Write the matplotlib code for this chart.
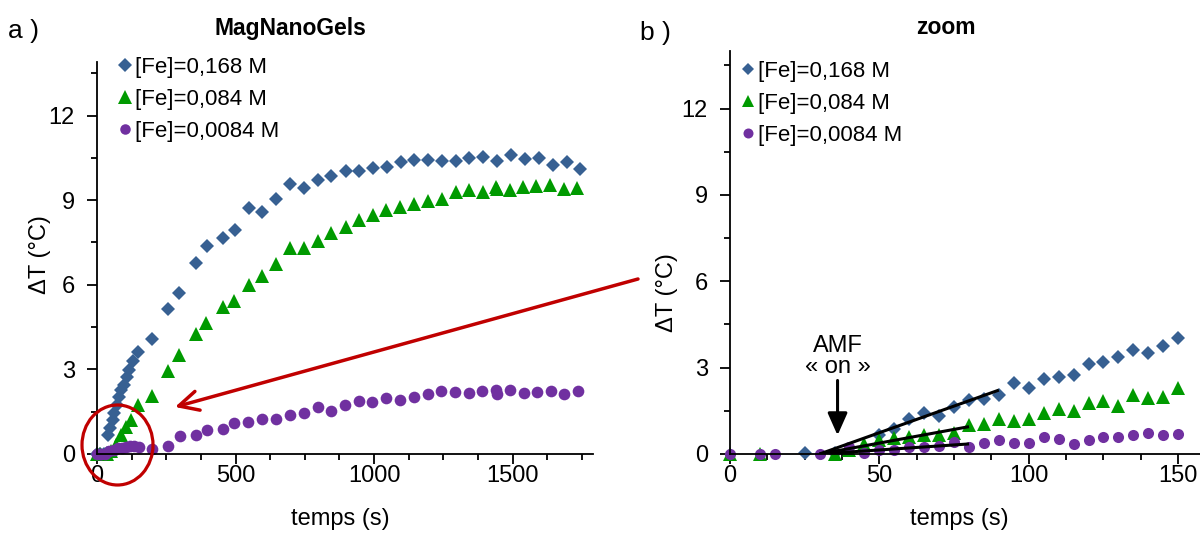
import numpy as np
import matplotlib.pyplot as plt
from matplotlib.patches import Ellipse, FancyArrowPatch
from matplotlib.ticker import MultipleLocator

plt.rcParams['font.family'] = ['Liberation Sans', 'DejaVu Sans']

labels = ['[Fe]=0,168 M', '[Fe]=0,084 M', '[Fe]=0,0084 M']
colors = ['#376092', '#009A00', '#7030A0']
markers = ['D', '^', 'o']

# panel a) : full run (s, degC)
t_a_168 = [0, 10, 25, 35, 39, 48, 57, 63, 73, 81, 87, 96, 109, 117, 129, 147,
           199, 255, 296, 357, 398, 455, 497, 547, 596, 646, 698, 746, 797, 846,
           897, 945, 996, 1047, 1096, 1144, 1195, 1245, 1295, 1343, 1393, 1445,
           1494, 1544, 1595, 1644, 1695, 1743]
dT_a_168 = [0, 0, 0, 0.05, 0.67, 0.91, 1.21, 1.44, 1.74, 2.03, 2.27, 2.45, 2.74, 2.98, 3.28, 3.6,
            4.07, 5.15, 5.72, 6.79, 7.38, 7.67, 7.94, 8.73, 8.59, 9.03, 9.57, 9.42, 9.70, 9.87,
            10.02, 10.02, 10.14, 10.16, 10.36, 10.41, 10.41, 10.38, 10.40, 10.48, 10.53, 10.38,
            10.62, 10.47, 10.50, 10.26, 10.36, 10.11]

t_a_084 = [0, 10, 35, 51, 69, 87, 105, 123, 147, 199, 255, 295, 356, 395, 455, 496,
           547, 596, 647, 698, 746, 797, 846, 897, 946, 996, 1044, 1093, 1143, 1195,
           1245, 1295, 1343, 1393, 1440, 1444, 1490, 1538, 1586, 1634, 1685, 1733]
dT_a_084 = [0, 0, 0, 0.1, 0.32, 0.67, 0.97, 1.21, 1.74, 2.06, 2.93, 3.51, 4.24, 4.64, 5.22, 5.44,
            6.00, 6.32, 6.74, 7.30, 7.30, 7.57, 7.83, 8.05, 8.30, 8.48, 8.66, 8.76, 8.87, 8.98,
            9.04, 9.28, 9.37, 9.29, 9.45, 9.40, 9.37, 9.47, 9.49, 9.55, 9.40, 9.43]

t_a_0084 = [0, 10, 15, 30, 45, 60, 75, 90, 105, 120, 135, 150,
            197, 255, 298, 356, 396, 454, 496, 544, 596, 645, 695, 746, 797, 846,
            894, 945, 994, 1042, 1092, 1143, 1195, 1243, 1291, 1342, 1391, 1440, 1445,
            1490, 1540, 1589, 1637, 1686, 1737]
dT_a_0084 = [0, 0, 0, 0, 0.1, 0.15, 0.2, 0.2, 0.25, 0.3, 0.3, 0.25,
             0.18, 0.29, 0.64, 0.67, 0.85, 0.89, 1.09, 1.15, 1.23, 1.23, 1.38, 1.47, 1.68, 1.54,
             1.72, 1.88, 1.86, 2.00, 1.92, 2.01, 2.13, 2.24, 2.19, 2.18, 2.24, 2.27, 2.12,
             2.27, 2.18, 2.19, 2.25, 2.12, 2.24]

# panel b) : first 150 s
t_b_168 = [25, 35, 50, 55, 60, 65, 70, 75, 80, 85, 90, 95, 100, 105, 110, 115,
           120, 125, 130, 135, 140, 145, 150]
dT_b_168 = [0.02, 0.05, 0.66, 0.86, 1.20, 1.41, 1.32, 1.64, 1.88, 1.90, 2.05, 2.48, 2.28,
            2.60, 2.68, 2.74, 3.13, 3.21, 3.36, 3.61, 3.50, 3.75, 4.02]
t_b_084 = [0, 10, 35, 40, 45, 50, 55, 60, 65, 70, 75, 80, 85, 90, 95, 100, 105, 110, 115,
           120, 125, 130, 135, 140, 145, 150]
dT_b_084 = [0, 0, 0, 0.14, 0.35, 0.49, 0.54, 0.60, 0.66, 0.66, 0.72, 1.01, 1.04, 1.20, 1.16,
            1.20, 1.43, 1.55, 1.50, 1.76, 1.85, 1.67, 2.05, 1.93, 1.99, 2.28]
t_b_0084 = [0, 10, 15, 30, 40, 45, 50, 55, 60, 65, 70, 75, 80, 85, 90, 95, 100, 105, 110,
            115, 120, 125, 130, 135, 140, 145, 150]
dT_b_0084 = [0, 0, 0, 0, 0.25, 0.05, 0.14, 0.14, 0.25, 0.25, 0.29, 0.43, 0.25, 0.39, 0.49,
             0.37, 0.37, 0.60, 0.51, 0.35, 0.49, 0.60, 0.60, 0.66, 0.72, 0.66, 0.68]

# initial slopes drawn on panel b)
fit_t0 = 30
fit_t1 = [90, 80, 80]
fit_dT1 = [2.22, 0.95, 0.35]
amf_on = 36

W, H = 1200, 537
fig = plt.figure(figsize=(12, 5.37), dpi=100)

def fx(px):
    return px / W

def fy(py):
    return 1 - py / H

ax1 = fig.add_axes([fx(97), fy(454), (593 - 97) / W, (454 - 62) / H])
ax2 = fig.add_axes([fx(730), fy(454), (1208 - 730) / W, (454 - 51) / H])

series_a = [(t_a_168, dT_a_168), (t_a_084, dT_a_084), (t_a_0084, dT_a_0084)]
series_b = [(t_b_168, dT_b_168), (t_b_084, dT_b_084), (t_b_0084, dT_b_0084)]
ms_a = [7.4, 10.5, 8.4]
ms_b = [7.0, 9.5, 8.0]

for (t, v), c, m, s, lab in zip(series_a, colors, markers, ms_a, labels):
    ax1.plot(t, v, linestyle='none', marker=m, ms=s, color=c, mec=c, mew=0, label=lab, clip_on=False)
for (t, v), c, m, s, lab in zip(series_b, colors, markers, ms_b, labels):
    ax2.plot(t, v, linestyle='none', marker=m, ms=s, color=c, mec=c, mew=0, label=lab, clip_on=False)

for t1, v1 in zip(fit_t1, fit_dT1):
    ax2.plot([fit_t0, t1], [0, v1], color='black', lw=2.2, solid_capstyle='butt', zorder=5)

ax2.annotate('AMF\n« on »', xy=(amf_on, 0.65), xytext=(amf_on, 2.65),
             ha='center', va='bottom', fontsize=17, linespacing=0.95,
             arrowprops=dict(arrowstyle='-|>,head_length=0.9,head_width=0.4',
                             color='black', lw=2.2, mutation_scale=15, shrinkA=0, shrinkB=0))

ax1.set_xlim(0, 1790)
ax1.set_ylim(0, 13.9)
ax2.set_xlim(0, 160)
ax2.set_ylim(0, 14)

for ax, xmaj, xmin in [(ax1, 500, 125), (ax2, 50, 12.5)]:
    ax.xaxis.set_major_locator(MultipleLocator(xmaj))
    ax.xaxis.set_minor_locator(MultipleLocator(xmin))
    ax.yaxis.set_major_locator(MultipleLocator(3))
    ax.yaxis.set_minor_locator(MultipleLocator(1.5))
    for side in ['top', 'right']:
        ax.spines[side].set_visible(False)
    for side in ['left', 'bottom']:
        ax.spines[side].set_linewidth(1.3)
    ax.tick_params(which='major', length=7, width=1.3, labelsize=17)
    ax.tick_params(which='minor', length=4.5, width=1.3)
    ax.tick_params(axis='y', which='major', pad=9)
    ax.tick_params(axis='x', which='major', pad=1)
    ax.set_xlabel('temps (s)', fontsize=17)
    ax.set_ylabel('ΔT (°C)', fontsize=17)
    ax.patch.set_alpha(0)

ax1.xaxis.set_label_coords(0.49, -0.138)
ax1.yaxis.set_label_coords(-0.093, 0.51)
ax2.xaxis.set_label_coords(0.48, -0.134)
ax2.yaxis.set_label_coords(-0.109, 0.40)

for ax, lx, ly in [(ax1, 119, 57), (ax2, 742, 61)]:
    ax.legend(loc='upper left', bbox_to_anchor=(fx(lx), fy(ly)), bbox_transform=fig.transFigure,
              frameon=False, fontsize=16, numpoints=1, handlelength=0.5, handletextpad=0.2,
              labelspacing=0.5, borderpad=0, borderaxespad=0, markerscale=0.9)

fig.text(fx(8), fy(31), 'a )', fontsize=19, va='center', ha='left')
fig.text(fx(640), fy(33), 'b )', fontsize=19, va='center', ha='left')
fig.text(fx(290), fy(29), 'MagNanoGels', fontsize=16.5, fontweight='bold', ha='center', va='center')
fig.text(fx(946), fy(28), 'zoom', fontsize=16.5, fontweight='bold', ha='center', va='center')

# red circle around the start of the run and arrow to the zoom
fig.add_artist(Ellipse((fx(117.5), fy(445)), 71 / W, 80 / H, transform=fig.transFigure,
                       fill=False, edgecolor='#C00000', lw=2.3))
fig.add_artist(FancyArrowPatch((fx(638), fy(279)), (fx(175), fy(407)), transform=fig.transFigure,
                               arrowstyle='->,head_length=0.7,head_width=0.35', mutation_scale=20,
                               color='#C00000', lw=2.5, shrinkA=0, shrinkB=0))

fig.savefig('out.png', dpi=100)
